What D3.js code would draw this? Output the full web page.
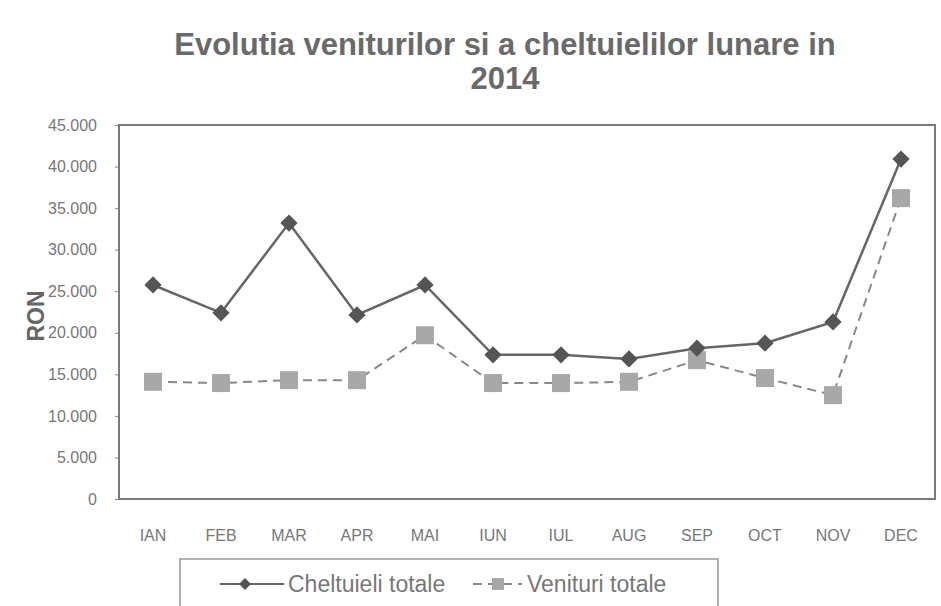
<!DOCTYPE html>
<html>
<head>
<meta charset="utf-8">
<script src="https://cdn.jsdelivr.net/npm/d3@7"></script>
<style>
  body { margin: 0; background: #fff; }
  text { font-family: "Liberation Sans", Arial, sans-serif; }
</style>
</head>
<body>
<svg id="chart"></svg>
<script>
// data
const months = ['IAN', 'FEB', 'MAR', 'APR', 'MAI', 'IUN', 'IUL', 'AUG', 'SEP', 'OCT', 'NOV', 'DEC'];
const cheltuieli = [25750, 22400, 33200, 22150, 25750, 17350, 17350, 16850, 18150, 18750, 21300, 40900];
const venituri = [14100, 13950, 14300, 14300, 19700, 13950, 13950, 14100, 16700, 14550, 12500, 36200];
const yTicks = [0, 5000, 10000, 15000, 20000, 25000, 30000, 35000, 40000, 45000];
const seriesNames = ['Cheltuieli totale', 'Venituri totale'];

const width = 941, height = 606;
const margin = { top: 125, right: 6, bottom: 107, left: 119 };

const svg = d3.select('#chart')
    .attr('width', width)
    .attr('height', height);

svg.append('rect')
    .attr('width', width)
    .attr('height', height)
    .attr('fill', '#fff');

// title
const title = svg.append('text')
    .attr('x', 505)
    .attr('y', 55)
    .attr('text-anchor', 'middle')
    .attr('fill', '#6a6a6a')
    .style('font-size', '31px')
    .style('font-weight', 'bold');
title.append('tspan').attr('x', 505).text('Evolutia veniturilor si a cheltuielilor lunare in');
title.append('tspan').attr('x', 505).attr('dy', 34).text('2014');

const x = d3.scaleBand()
    .domain(months)
    .range([margin.left, width - margin.right]);

const y = d3.scaleLinear()
    .domain([0, 45000])
    .range([height - margin.bottom, margin.top]);

const fmt = d => d3.format(',')(d).replace(/,/g, '.');

// y axis
const yAxis = svg.append('g')
    .attr('transform', `translate(${margin.left},0)`)
    .call(d3.axisLeft(y).tickValues(yTicks).tickFormat(fmt).tickSize(4).tickPadding(18));
yAxis.select('.domain').remove();
yAxis.selectAll('line').attr('stroke', '#888');
yAxis.selectAll('text')
    .attr('fill', '#777')
    .style('font-size', '16px')
    .style('font-family', '"Liberation Sans", Arial, sans-serif');

// x axis
const xAxis = svg.append('g')
    .attr('transform', `translate(0,${height - margin.bottom})`)
    .call(d3.axisBottom(x).tickSize(0).tickPadding(31));
xAxis.select('.domain').remove();
xAxis.selectAll('text')
    .attr('fill', '#777')
    .style('font-size', '16px')
    .style('font-family', '"Liberation Sans", Arial, sans-serif');

// plot border
svg.append('rect')
    .attr('x', margin.left)
    .attr('y', margin.top)
    .attr('width', width - margin.left - margin.right)
    .attr('height', height - margin.top - margin.bottom)
    .attr('fill', 'none')
    .attr('stroke', '#7a7a7a')
    .attr('stroke-width', 2);

// y axis title
svg.append('text')
    .attr('transform', 'translate(44,316) rotate(-90)')
    .attr('text-anchor', 'middle')
    .attr('fill', '#666')
    .style('font-size', '23px')
    .style('font-weight', 'bold')
    .text('RON');

const cx = (d, i) => x(months[i]) + x.bandwidth() / 2;
const line = d3.line().x(cx).y(d => y(d));

// venituri (dashed, squares)
svg.append('path')
    .datum(venituri)
    .attr('d', line)
    .attr('fill', 'none')
    .attr('stroke', '#888')
    .attr('stroke-width', 2)
    .attr('stroke-dasharray', '9,6');

svg.selectAll('.sq')
    .data(venituri)
    .enter()
    .append('rect')
    .classed('sq', true)
    .attr('x', (d, i) => cx(d, i) - 9)
    .attr('y', d => y(d) - 9)
    .attr('width', 18)
    .attr('height', 18)
    .attr('fill', '#a8a8a8');

// cheltuieli (solid, diamonds)
svg.append('path')
    .datum(cheltuieli)
    .attr('d', line)
    .attr('fill', 'none')
    .attr('stroke', '#666')
    .attr('stroke-width', 2.5);

const diamond = d3.symbol().type(d3.symbolDiamond2).size(190);
svg.selectAll('.dm')
    .data(cheltuieli)
    .enter()
    .append('path')
    .classed('dm', true)
    .attr('d', diamond)
    .attr('transform', (d, i) => `translate(${cx(d, i)},${y(d)})`)
    .attr('fill', '#555');

// legend
const legend = svg.append('g');
legend.append('rect')
    .attr('x', 180)
    .attr('y', 559)
    .attr('width', 538)
    .attr('height', 60)
    .attr('fill', '#fff')
    .attr('stroke', '#999')
    .attr('stroke-width', 1.5);

legend.append('line')
    .attr('x1', 220).attr('x2', 284)
    .attr('y1', 584).attr('y2', 584)
    .attr('stroke', '#666').attr('stroke-width', 2);
legend.append('path')
    .attr('d', d3.symbol().type(d3.symbolDiamond2).size(90))
    .attr('transform', 'translate(245,584)')
    .attr('fill', '#555');
legend.append('text')
    .attr('x', 288).attr('y', 592)
    .attr('fill', '#777')
    .style('font-size', '23px')
    .text(seriesNames[0]);

legend.append('line')
    .attr('x1', 473).attr('x2', 522)
    .attr('y1', 584).attr('y2', 584)
    .attr('stroke', '#888').attr('stroke-width', 2)
    .attr('stroke-dasharray', '9,6');
legend.append('rect')
    .attr('x', 492).attr('y', 578)
    .attr('width', 12).attr('height', 12)
    .attr('fill', '#a8a8a8');
legend.append('text')
    .attr('x', 527).attr('y', 592)
    .attr('fill', '#777')
    .style('font-size', '23px')
    .text(seriesNames[1]);
</script>
</body>
</html>
